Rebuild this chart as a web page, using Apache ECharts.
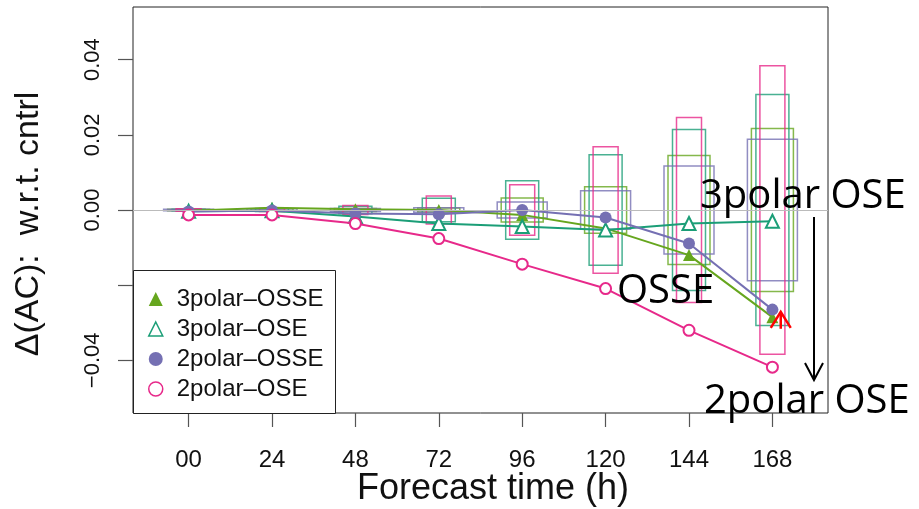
<!DOCTYPE html>
<html>
<head>
<meta charset="utf-8">
<script src="https://cdn.jsdelivr.net/npm/echarts@6/dist/echarts.min.js"></script>
<style>
  html, body { margin: 0; padding: 0; background: #fff; }
  #chart { width: 919px; height: 509px; }
</style>
</head>
<body>
<div id="chart"></div>
<script>
// Forecast lead times (hours) and their tick labels
const hours = [0, 24, 48, 72, 96, 120, 144, 168];
const xTickLabels = ['00', '24', '48', '72', '96', '120', '144', '168'];

// Y ticks and labels (the -0.02 tick carries no label)
const yTickValues = [-0.04, -0.02, 0, 0.02, 0.04];
const yTickLabels = ['\u22120.04', '', '0.00', '0.02', '0.04'];

// Series names
const seriesNames = ['3polar\u2013OSSE', '3polar\u2013OSE', '2polar\u2013OSSE', '2polar\u2013OSE'];

// Mean change in anomaly correlation w.r.t. control
const polar3OSSE = [-0.0002, 0.0006, 0.0002, 0.0000, -0.0013, -0.0049, -0.0120, -0.0285];
const polar3OSE  = [-0.0003, -0.0002, -0.0017, -0.0036, -0.0044, -0.0053, -0.0036, -0.0030];
const polar2OSSE = [-0.0004, -0.0001, -0.0009, -0.0011, 0.0000, -0.0020, -0.0089, -0.0265];
const polar2OSE  = [-0.0013, -0.0013, -0.0036, -0.0076, -0.0144, -0.0209, -0.0320, -0.0418];

// Half-heights of the significance boxes around zero
const box3OSSE = [0.0002, 0.0003, 0.0004, 0.0005, 0.0032, 0.0062, 0.0145, 0.0217];
const box3OSE  = [0.0002, 0.0004, 0.0010, 0.0031, 0.0078, 0.0147, 0.0214, 0.0307];
const box2OSSE = [0.0002, 0.0003, 0.0004, 0.0006, 0.0021, 0.0051, 0.0117, 0.0188];
const box2OSE  = [0.0003, 0.0004, 0.0012, 0.0037, 0.0067, 0.0168, 0.0246, 0.0384];

// Red marker arrow at the 168 h points: [hour, from, to]
const redArrow = [170.4, -0.0316, -0.0271];

const GREEN = '#66A61E', TEAL = '#1B9E77', PURPLE = '#7570B3', PINK = '#E7298A';
const FONT = '"Liberation Sans", Arial, sans-serif';
const NOTE_FONT = '"Open Sans", "Noto Sans", sans-serif';

const pairs = (vals) => hours.map((h, i) => [h, vals[i]]);

function boxSeries(name, vals, color, pxWidth) {
  return {
    name: name,
    type: 'custom',
    silent: true,
    z: 1,
    data: pairs(vals),
    encode: { x: 0, y: 1 },
    renderItem: function (params, api) {
      const x = api.value(0), h = api.value(1);
      const top = api.coord([x, h]);
      const bot = api.coord([x, -h]);
      return {
        type: 'rect',
        shape: { x: top[0] - pxWidth / 2, y: top[1], width: pxWidth, height: Math.max(bot[1] - top[1], 1) },
        style: { fill: 'none', stroke: color, lineWidth: 1.5, opacity: 0.8 }
      };
    }
  };
}

function lineSeries(name, vals, color, symbol, size, open, z) {
  return {
    name: name,
    type: 'line',
    z: z,
    data: pairs(vals),
    symbol: symbol,
    symbolSize: size,
    showAllSymbol: true,
    lineStyle: { color: color, width: 2 },
    itemStyle: open
      ? { color: '#ffffff', borderColor: color, borderWidth: 2 }
      : { color: color, borderWidth: 0 },
    emphasis: { disabled: true }
  };
}

const chart = echarts.init(document.getElementById('chart'), null, { renderer: 'canvas' });

chart.setOption({
  animation: false,
  backgroundColor: '#ffffff',
  grid: {
    left: 133, right: 91, top: 7, bottom: 96,
    show: true, borderColor: '#222', borderWidth: 1, backgroundColor: 'transparent'
  },
  xAxis: {
    type: 'value',
    min: -16, max: 184,
    splitLine: { show: false },
    axisLine: { show: false, onZero: false },
    axisTick: { show: true, length: 14, customValues: hours, lineStyle: { color: '#555', width: 1.2 } },
    axisLabel: {
      customValues: hours,
      margin: 35,
      fontSize: 24,
      fontFamily: FONT,
      color: '#111',
      formatter: (v) => xTickLabels[hours.indexOf(v)]
    }
  },
  yAxis: {
    type: 'value',
    min: -0.054, max: 0.054,
    splitLine: { show: false },
    axisLine: { show: false, onZero: false },
    axisTick: { show: true, length: 15, customValues: yTickValues, lineStyle: { color: '#555', width: 1.2 } },
    axisLabel: {
      customValues: yTickValues,
      rotate: 90,
      margin: 29,
      fontSize: 22,
      fontFamily: FONT,
      color: '#111',
      formatter: (v) => {
        const i = yTickValues.findIndex((t) => Math.abs(t - v) < 1e-9);
        return i >= 0 ? yTickLabels[i] : '';
      }
    }
  },
  legend: {
    orient: 'vertical',
    left: 148, top: 287,
    padding: 0,
    itemWidth: 14, itemHeight: 14, itemGap: 6,
    selectedMode: false,
    z: 20,
    textStyle: { fontSize: 24, fontFamily: FONT, color: '#111', lineHeight: 23.5, padding: [0, 0, 0, 9] },
    data: [
      { name: seriesNames[0], icon: 'triangle', itemStyle: { color: GREEN, borderWidth: 0 } },
      { name: seriesNames[1], icon: 'triangle', itemStyle: { color: '#ffffff', borderColor: TEAL, borderWidth: 1.5 } },
      { name: seriesNames[2], icon: 'circle', itemStyle: { color: PURPLE, borderWidth: 0 } },
      { name: seriesNames[3], icon: 'circle', itemStyle: { color: '#ffffff', borderColor: PINK, borderWidth: 1.5 } }
    ]
  },
  graphic: [
    // legend frame
    { type: 'rect', z: 10, shape: { x: 133.5, y: 270.5, width: 202, height: 143 },
      style: { fill: '#ffffff', stroke: '#222', lineWidth: 1 } },
    // axis titles
    { type: 'text', x: 493, y: 489, z: 30,
      style: { text: 'Forecast time (h)', font: '36px ' + FONT, fill: '#111', align: 'center', verticalAlign: 'middle' } },
    { type: 'text', x: 29, y: 224, rotation: Math.PI / 2, z: 30,
      style: { text: '\u0394(AC):  w.r.t. cntrl', font: '34px ' + FONT, fill: '#111', align: 'center', verticalAlign: 'middle' } },
    // annotations
    { type: 'text', x: 700, y: 197, z: 30,
      style: { text: '3polar OSE', font: '40px ' + NOTE_FONT, fill: '#000', align: 'left', verticalAlign: 'middle' } },
    { type: 'text', x: 617, y: 292, z: 30,
      style: { text: 'OSSE', font: '40px ' + NOTE_FONT, fill: '#000', align: 'left', verticalAlign: 'middle' } },
    { type: 'text', x: 704, y: 402, z: 30,
      style: { text: '2polar OSE', font: '40px ' + NOTE_FONT, fill: '#000', align: 'left', verticalAlign: 'middle' } },
    { type: 'polyline', z: 30, shape: { points: [[814, 217], [814, 380]] },
      style: { stroke: '#000', lineWidth: 2, fill: null } },
    { type: 'polyline', z: 30, shape: { points: [[805, 363], [814, 380], [823, 363]] },
      style: { stroke: '#000', lineWidth: 2, fill: null } }
  ],
  series: [
    boxSeries('box-a', box3OSSE, GREEN, 42),
    boxSeries('box-b', box3OSE, TEAL, 33),
    boxSeries('box-c', box2OSSE, PURPLE, 50),
    boxSeries('box-d', box2OSE, PINK, 25),
    {
      name: 'zero',
      type: 'line',
      data: [],
      silent: true,
      z: 1,
      markLine: {
        silent: true, symbol: 'none', animation: false,
        label: { show: false },
        lineStyle: { color: '#bbbbbb', width: 1.2, type: 'solid' },
        data: [{ yAxis: 0 }]
      }
    },
    lineSeries(seriesNames[0], polar3OSSE, GREEN, 'triangle', 12, false, 3),
    lineSeries(seriesNames[1], polar3OSE, TEAL, 'triangle', 13, true, 3),
    lineSeries(seriesNames[2], polar2OSSE, PURPLE, 'circle', 12, false, 4),
    lineSeries(seriesNames[3], polar2OSE, PINK, 'circle', 11, true, 4),
    {
      name: 'arrow',
      type: 'custom',
      silent: true,
      z: 6,
      data: [redArrow],
      encode: { x: 0, y: [1, 2] },
      renderItem: function (params, api) {
        const from = api.coord([api.value(0), api.value(1)]);
        const to = api.coord([api.value(0), api.value(2)]);
        const st = { stroke: '#ff0000', lineWidth: 2.5, fill: null };
        return {
          type: 'group',
          children: [
            { type: 'polyline', shape: { points: [from, to] }, style: st },
            { type: 'polyline', shape: { points: [[to[0] - 10, to[1] + 16], to, [to[0] + 10, to[1] + 16]] }, style: st }
          ]
        };
      }
    }
  ]
});
</script>
</body>
</html>
